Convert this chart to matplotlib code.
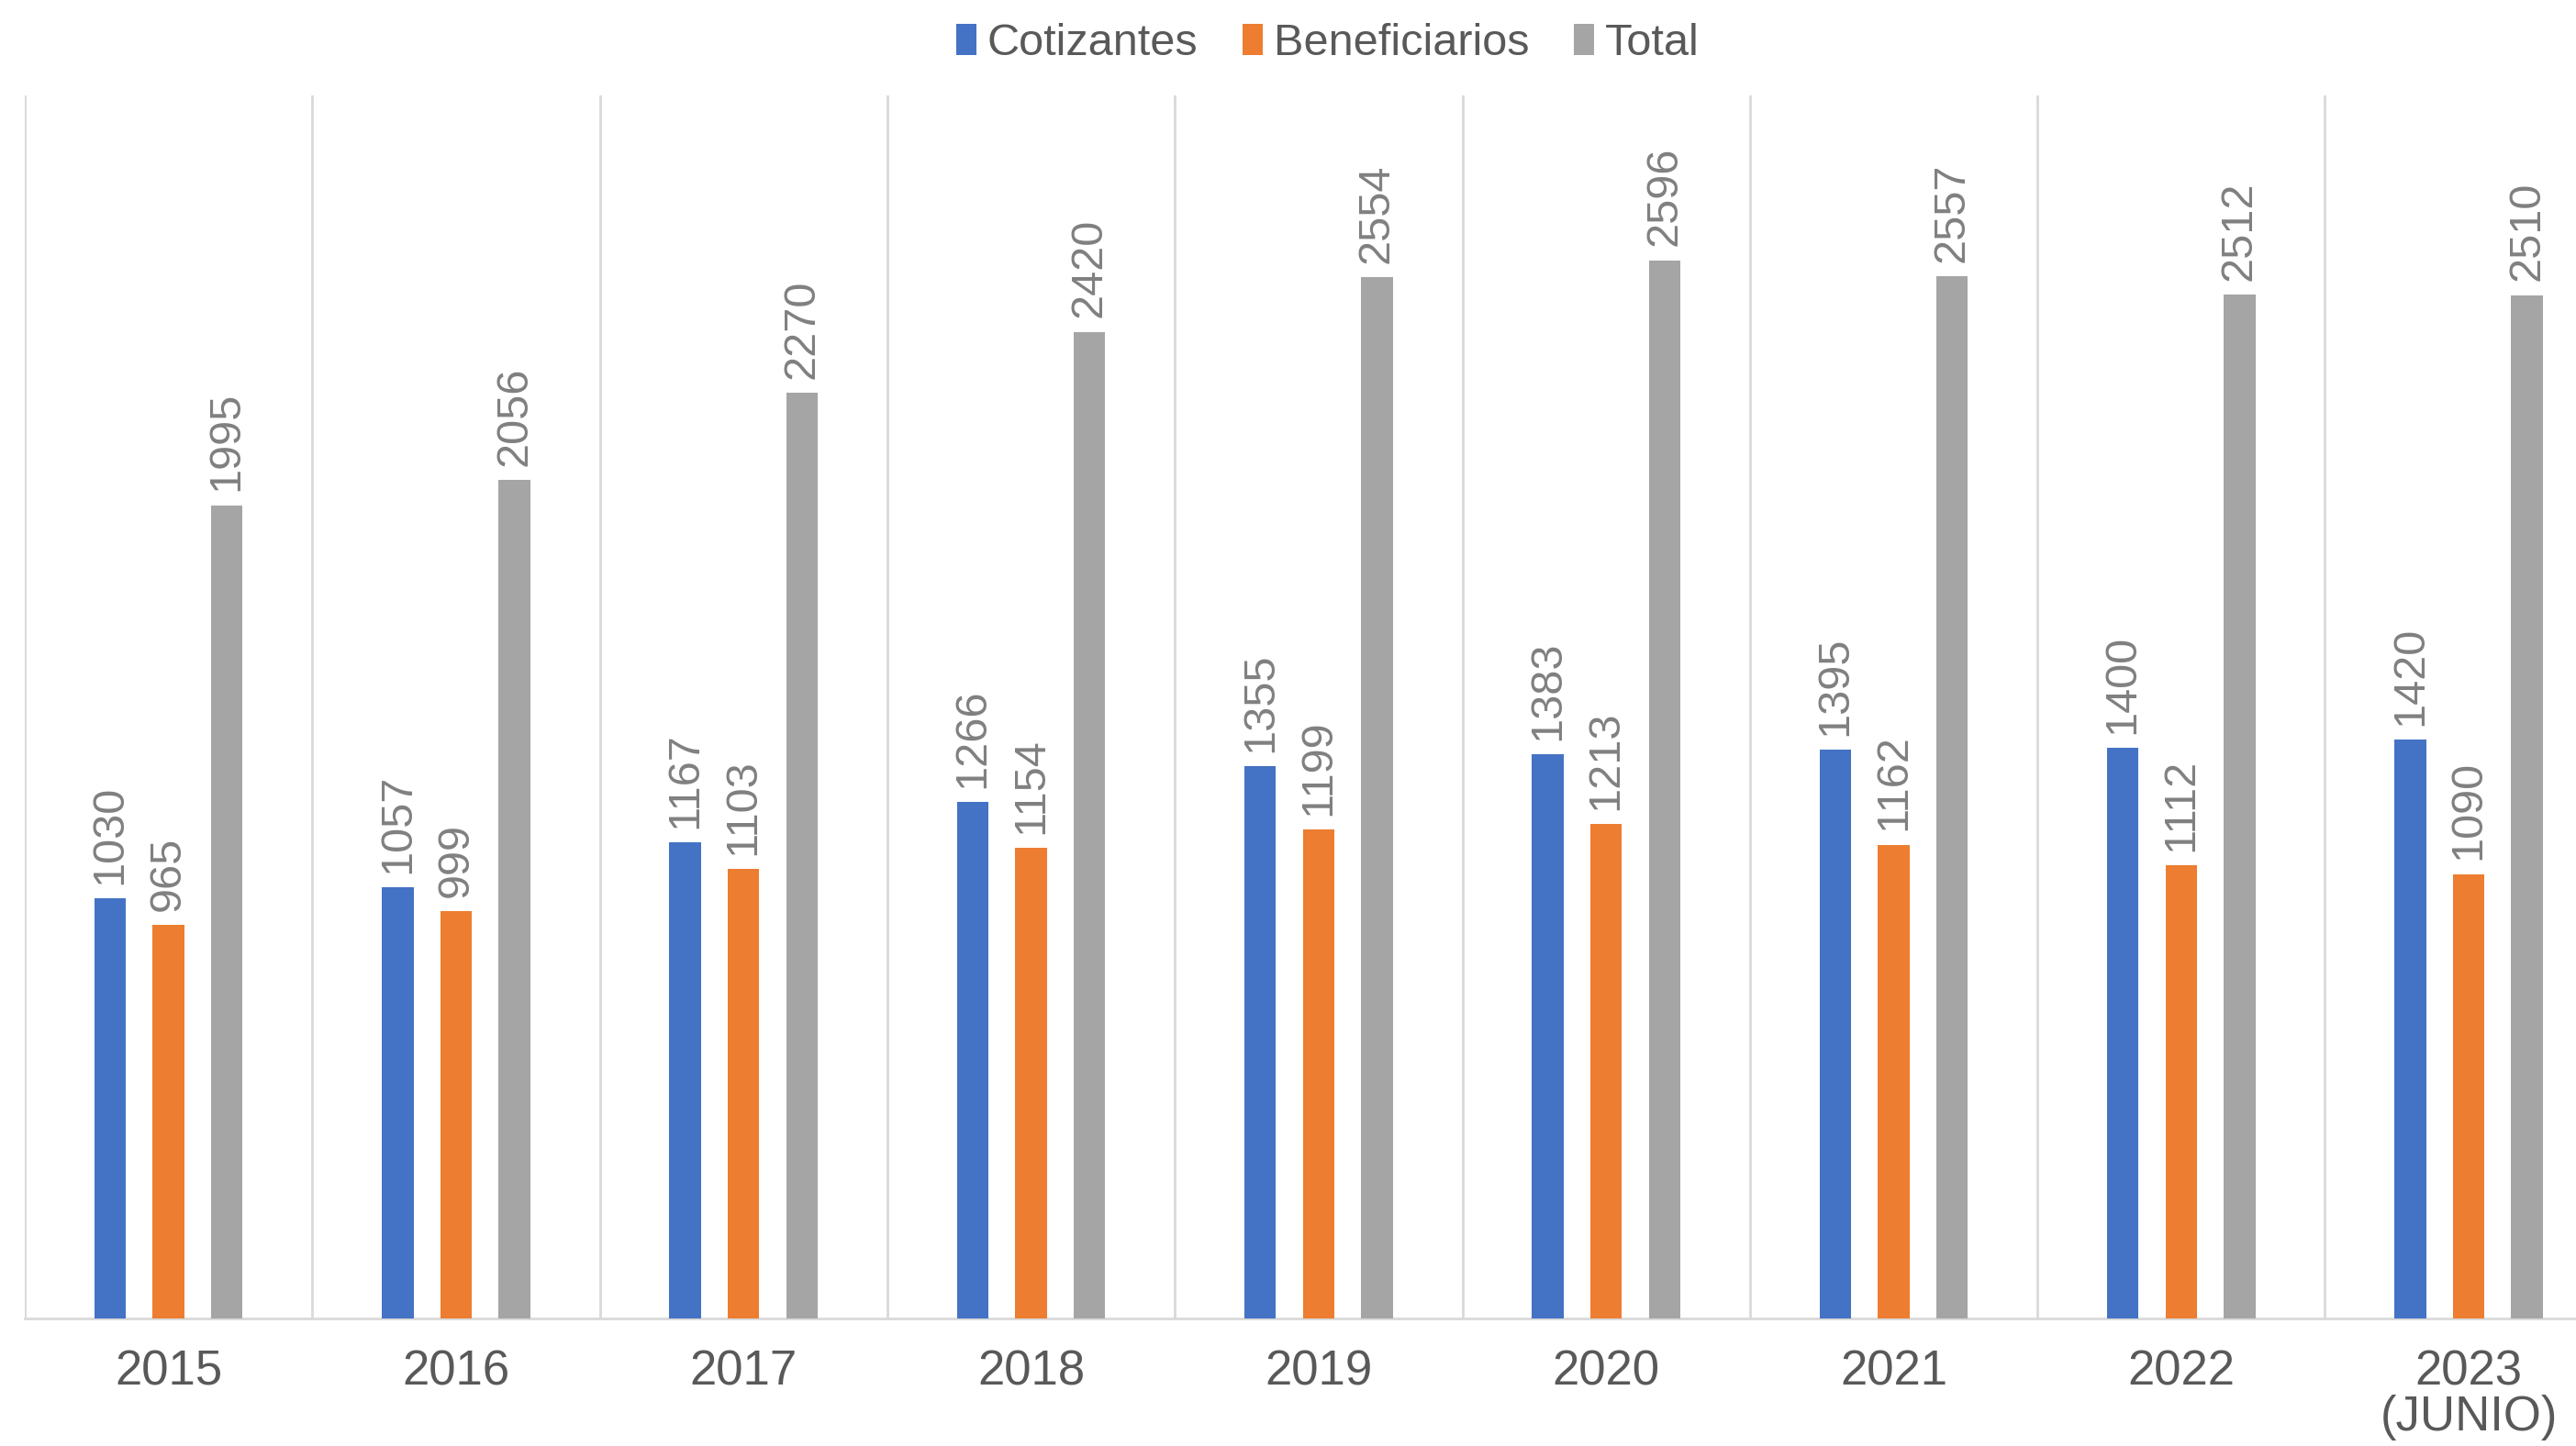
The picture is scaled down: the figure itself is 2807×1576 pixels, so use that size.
import matplotlib
matplotlib.use("Agg")
import matplotlib.pyplot as plt
import numpy as np

plt.rcParams['font.family'] = ['Liberation Sans', 'DejaVu Sans']

# Datos
years = ["2015", "2016", "2017", "2018", "2019", "2020", "2021", "2022", "2023\n(JUNIO)"]
cotizantes = [1030, 1057, 1167, 1266, 1355, 1383, 1395, 1400, 1420]
beneficiarios = [965, 999, 1103, 1154, 1199, 1213, 1162, 1112, 1090]
total = [1995, 2056, 2270, 2420, 2554, 2596, 2557, 2512, 2510]

series = [("Cotizantes", cotizantes, "#4472C4"),
          ("Beneficiarios", beneficiarios, "#ED7D31"),
          ("Total", total, "#A5A5A5")]

fig = plt.figure(figsize=(28.07, 15.76), dpi=100)
ax = fig.add_axes([27 / 2807, 1 - 1437 / 1576, 9 * 313.3 / 2807, (1437 - 104) / 1576])

x = np.arange(len(years))
width = 0.11
offset = 0.203
for i, (name, vals, color) in enumerate(series):
    bars = ax.bar(x + (i - 1) * offset, vals, width, color=color, label=name, zorder=3)
    for b, v in zip(bars, vals):
        ax.annotate(str(v), (b.get_x() + b.get_width() / 2, b.get_height()),
                    xytext=(0, 11), textcoords="offset points", rotation=90,
                    ha="center", va="bottom", fontsize=35, color="#808080")

ax.set_xlim(-0.5, len(years) - 0.5)
ax.set_ylim(0, 3000)

# lineas verticales entre categorias
for b in np.arange(-0.5, len(years), 1.0):
    ax.axvline(b, color="#D9D9D9", lw=2, zorder=1)

for s in ["top", "right", "left"]:
    ax.spines[s].set_visible(False)
ax.spines["bottom"].set_color("#D9D9D9")
ax.spines["bottom"].set_linewidth(2)
ax.set_yticks([])
ax.set_xticks(x)
ax.set_xticklabels(years, fontsize=38, color="#595959", linespacing=1.0)
ax.tick_params(axis="x", length=0, pad=24)

ax.legend(loc="lower center", bbox_to_anchor=(0.5035, 1.0), ncol=3, frameon=False,
          fontsize=35, handlelength=0.45, handleheight=0.7, handletextpad=0.25,
          columnspacing=1.0, labelcolor="#595959", borderaxespad=0.3)

fig.savefig("out.png", dpi=100)
